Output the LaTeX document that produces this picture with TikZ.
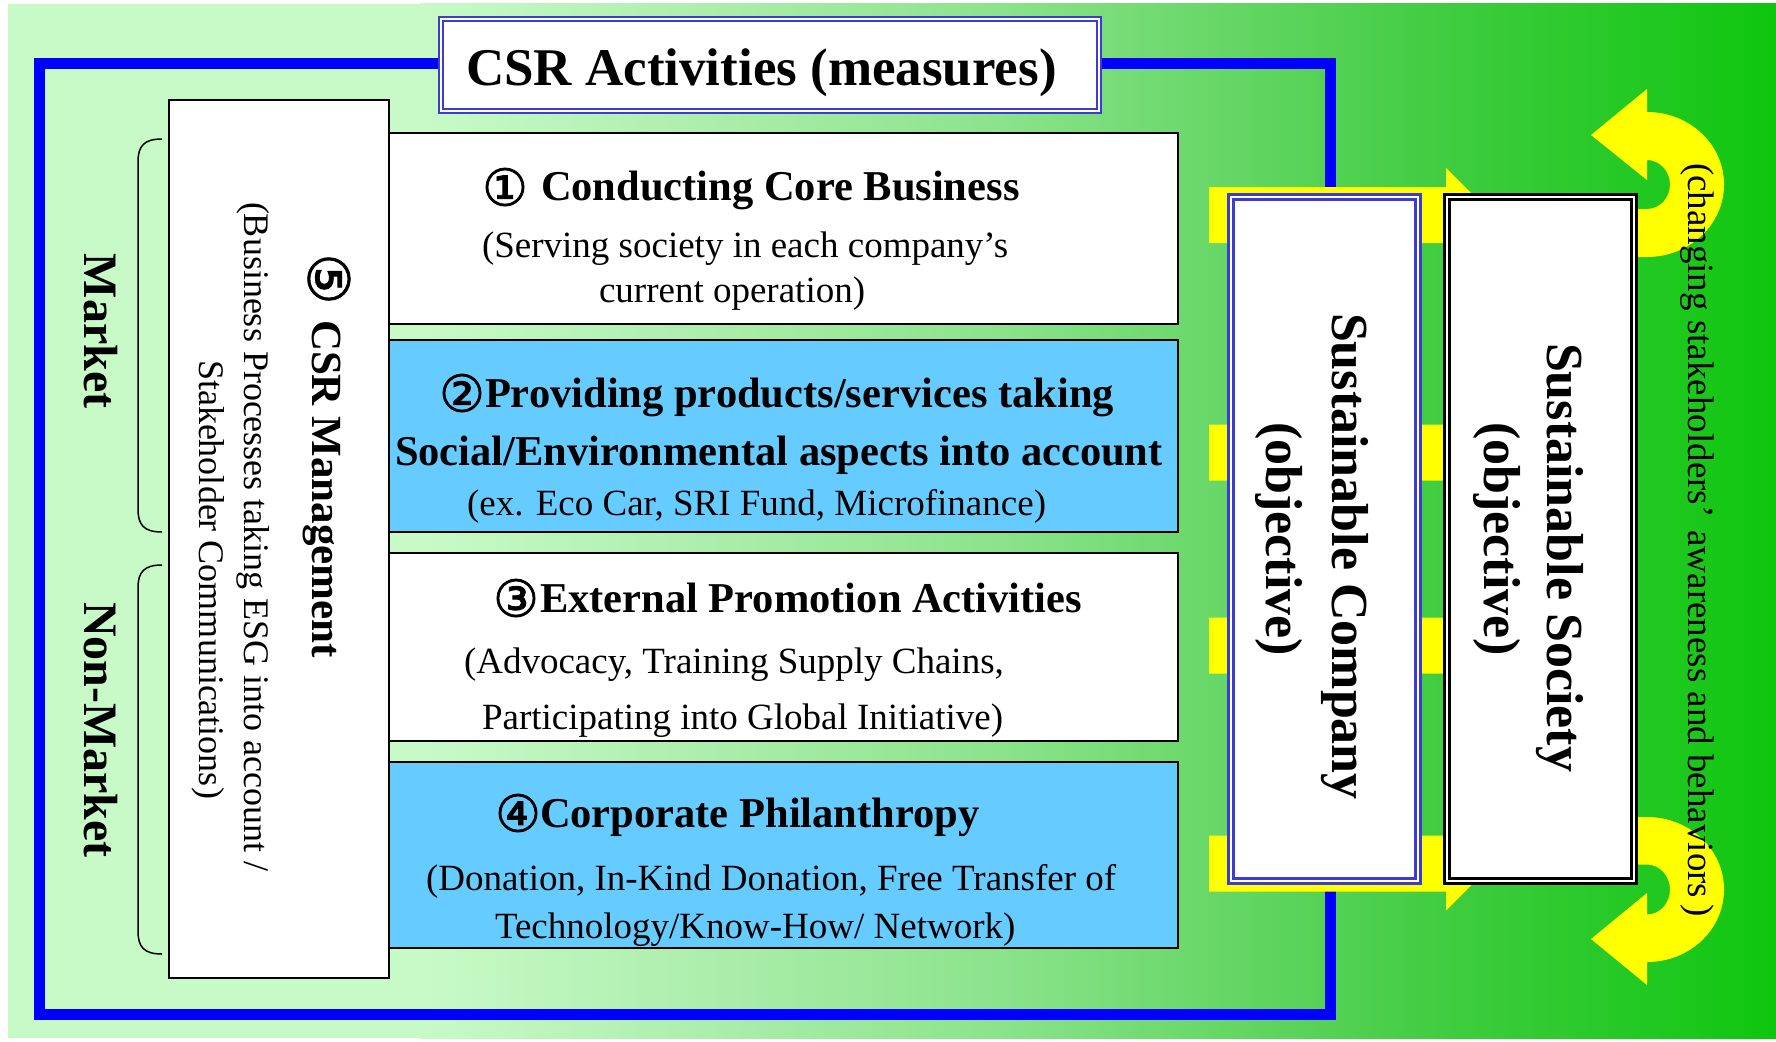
\documentclass[tikz,border=0pt]{standalone}
\usepackage{fontspec}
\setmainfont{Liberation Serif}
\newfontfamily\circfont{DejaVu Sans}[FakeBold=1.5]
\definecolor{bga}{HTML}{C8FAC8}
\definecolor{bgb}{HTML}{ADEEAD}
\definecolor{bgc}{HTML}{8BE38B}
\definecolor{bgd}{HTML}{6AD86A}
\definecolor{bge}{HTML}{3FCC3F}
\definecolor{bgf}{HTML}{0EC60E}
\definecolor{boxblue}{HTML}{66CCFF}
\definecolor{frameblue}{HTML}{0000FF}
\definecolor{dblue}{HTML}{3C3CD0}
\definecolor{ayellow}{HTML}{FFFF00}
\begin{document}
\begin{tikzpicture}[x=1pt,y=-1pt,
  txt/.style={inner sep=0pt, outer sep=0pt, text=black},
  vtxt/.style={txt, rotate=-90},
  headf/.style={font=\fontsize{42.5}{50}\selectfont\bfseries},
  subf/.style={font=\fontsize{37}{44}\selectfont},
  circ/.style={txt, font=\fontsize{51}{56}\selectfont\circfont},
  actbox/.style={draw=black, line width=2pt, inner sep=0pt, minimum width=789pt},
  objf/.style={font=\fontsize{52}{60}\selectfont\bfseries},
  mkf/.style={font=\fontsize{48}{54}\selectfont\bfseries}
]
\useasboundingbox (0,0) rectangle (1776,1041);
\fill[white] (0,0) rectangle (1776,1041);
% background gradient
\fill[bga] (8,4) rectangle (421,1038);
\shade[left color=bga, right color=bgb] (420,4) rectangle (701,1038);
\shade[left color=bgb, right color=bgc] (700,4) rectangle (1001,1038);
\shade[left color=bgc, right color=bgd] (1000,4) rectangle (1201,1038);
\shade[left color=bgd, right color=bge] (1200,4) rectangle (1451,1038);
\shade[left color=bge, right color=bgf] (1450,4) rectangle (1776,1038);
% blue frame
\draw[frameblue, line width=11pt] (39.5,63.5) rectangle (1330.5,1014.5);
% title box
\node[fill=white, draw=dblue, line width=2pt, double=white, double distance=2pt,
      minimum width=658pt, minimum height=92pt, inner sep=0pt] (tbox) at (770,65) {};
% left management box
\node[fill=white, draw=black, line width=2pt, minimum width=220pt, minimum height=878pt, inner sep=0pt] (mgmt) at (279,539) {};
% activity boxes
\node[actbox, fill=white, minimum height=191pt] (b1) at (783.5,228.5) {};
\node[actbox, fill=boxblue, minimum height=192pt] (b2) at (783.5,436) {};
\node[actbox, fill=white, minimum height=188pt] (b3) at (783.5,647) {};
\node[actbox, fill=boxblue, minimum height=186pt] (b4) at (783.5,855) {};
% brackets
\draw[line width=1.5pt] (162,139) .. controls (144,139) and (138,146) .. (138,162) -- (138,509) .. controls (138,525) and (144,532) .. (162,532);
\draw[line width=1.5pt] (162,565) .. controls (144,565) and (138,572) .. (138,588) -- (138,931) .. controls (138,947) and (144,954) .. (162,954);
% straight yellow arrows
\foreach \c in {215,452.5,645.5,863.5}{
  \fill[ayellow] (1209,\c-28) -- (1446,\c-28) -- (1446,\c-47) -- (1493,\c) -- (1446,\c+47) -- (1446,\c+28) -- (1209,\c+28) -- cycle;
}
% curved yellow arrows
\fill[ayellow] (1636,257) -- (1647,257) arc[start angle=90, end angle=-90, x radius=77, y radius=72.5]
  -- (1647,89) -- (1591,135) -- (1647,180) -- (1647,160)
  arc[start angle=-90, end angle=90, x radius=23, y radius=24.5] -- (1636,209) -- cycle;
\fill[ayellow] (1636,817) -- (1647,817) arc[start angle=-90, end angle=90, x radius=77, y radius=72.5]
  -- (1647,985) -- (1591,939) -- (1647,893) -- (1647,914.5)
  arc[start angle=90, end angle=-90, x radius=23, y radius=25] -- (1636,864.5) -- cycle;
% objective boxes
\node[fill=white, draw=dblue, line width=3pt, double=white, double distance=2pt,
      minimum width=187pt, minimum height=684pt, inner sep=0pt] (comp) at (1324.5,539) {};
\node[fill=white, draw=black, line width=3pt, double=white, double distance=2pt,
      minimum width=187pt, minimum height=684pt, inner sep=0pt] (soc) at (1540.5,539) {};
% texts
\node[txt, anchor=base west, font=\fontsize{53}{60}\selectfont\bfseries] (ttl) at (466,85) {CSR Activities (measures)};

\node[circ] (n1) at (505,187) {①};
\node[txt, headf, anchor=base west] (h1) at (541,200) {Conducting Core Business};
\node[txt, subf, anchor=base west] (s1a) at (482,257) {(Serving society in each company’s};
\node[txt, subf, anchor=base west] (s1b) at (599,302) {current operation)};

\node[circ] (n2) at (462,393) {②};
\node[txt, headf, anchor=base west] (h2a) at (485,407) {Providing products/services taking};
\node[txt, headf, anchor=base west] (h2b) at (395,465) {Social/Environmental aspects into account};
\node[txt, subf, anchor=base west] (s2) at (467,515) {(ex. Eco Car, SRI Fund, Microfinance)};

\node[circ] (n3) at (516,598) {③};
\node[txt, headf, anchor=base west] (h3) at (540,612) {External Promotion Activities};
\node[txt, subf, anchor=base west] (s3a) at (464,673) {(Advocacy, Training Supply Chains,};
\node[txt, subf, anchor=base west] (s3b) at (482,729) {Participating into Global Initiative)};

\node[circ] (n4) at (518,813) {④};
\node[txt, headf, anchor=base west] (h4) at (540,827) {Corporate Philanthropy};
\node[txt, subf, anchor=base west] (s4a) at (426,890) {(Donation, In-Kind Donation, Free Transfer of};
\node[txt, subf, anchor=base west] (s4b) at (495,938) {Technology/Know-How/ Network)};

\node[circ, rotate=-90, font=\fontsize{57}{60}\selectfont\circfont] (n5) at (329,279) {⑤};
\node[vtxt, anchor=base west, font=\fontsize{43}{50}\selectfont\bfseries] (m1) at (312,320) {CSR Management};
\node[vtxt, anchor=base west, font=\fontsize{36}{42}\selectfont] (m2) at (244,202) {(Business Processes taking ESG into account /};
\node[vtxt, anchor=base west, font=\fontsize{36}{42}\selectfont] (m3) at (199,360) {Stakeholder Communications)};

\node[vtxt, mkf, anchor=base] (mk) at (84,331) {Market};
\node[vtxt, mkf, anchor=base] (nmk) at (84,730) {Non-Market};

\node[vtxt, objf, anchor=base west] (c1) at (1332,313) {Sustainable Company};
\node[vtxt, objf, anchor=base west] (c2) at (1266,422) {(objective)};
\node[vtxt, objf, anchor=base west] (so1) at (1547,343) {Sustainable Society};
\node[vtxt, objf, anchor=base west] (so2) at (1484,422) {(objective)};

\node[vtxt, anchor=base west, font=\fontsize{37}{42}\selectfont] (chg) at (1688,163) {(changing stakeholders’\hspace{0.35em}awareness and behaviors\,)};
\end{tikzpicture}
\end{document}
